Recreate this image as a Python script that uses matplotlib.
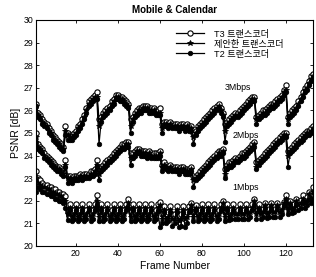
import matplotlib
matplotlib.use("Agg")
import matplotlib.pyplot as plt
import numpy as np

plt.rcParams["font.family"] = ["Liberation Sans", "Noto Sans CJK KR", "DejaVu Sans"]

frames = np.arange(1, 134)

# 3 Mbps
t3_3m = [
    26.3, 25.9, 25.8, 25.6, 25.5, 25.4, 25.2, 25.1, 24.9, 24.8, 24.7, 24.6, 24.5, 24.4, 25.3,
    25.0, 24.9, 24.9, 25.0, 25.1, 25.3, 25.4, 25.6, 25.8, 26.1, 26.4, 26.5, 26.6, 26.7, 26.8,
    25.6, 25.7, 25.9, 26.0, 26.1, 26.2, 26.4, 26.5, 26.7, 26.7, 26.6, 26.6, 26.5, 26.4, 26.3,
    25.6, 25.7, 25.9, 26.0, 26.1, 26.1, 26.2, 26.2, 26.2, 26.1, 26.1, 26.1, 26.0, 26.0, 26.1,
    25.4, 25.5, 25.5, 25.4, 25.5, 25.4, 25.4, 25.4, 25.3, 25.4, 25.4, 25.3, 25.4, 25.3, 25.3,
    25.0, 25.1, 25.3, 25.4, 25.5, 25.6, 25.7, 25.8, 25.9, 26.0, 26.1, 26.2, 26.3, 26.1, 25.9,
    25.4, 25.5, 25.6, 25.7, 25.8, 25.9, 25.9, 26.0, 26.1, 26.2, 26.3, 26.4, 26.5, 26.6, 26.6,
    25.7, 25.8, 25.9, 26.0, 26.0, 26.1, 26.2, 26.3, 26.3, 26.4, 26.5, 26.6, 26.7, 26.9, 27.1,
    25.7, 25.9, 26.0, 26.1, 26.2, 26.4, 26.6, 26.8, 27.0, 27.1, 27.3, 27.5, 27.6,
]
prop_3m = [
    26.2, 25.8, 25.7, 25.5, 25.4, 25.3, 25.1, 25.0, 24.8, 24.7, 24.6, 24.5, 24.4, 24.3, 25.1,
    24.9, 24.8, 24.8, 24.9, 25.0, 25.2, 25.3, 25.5, 25.7, 26.0, 26.3, 26.4, 26.5, 26.6, 26.6,
    25.3, 25.6, 25.8, 25.9, 26.0, 26.1, 26.3, 26.4, 26.6, 26.6, 26.5, 26.5, 26.4, 26.3, 26.2,
    25.3, 25.6, 25.8, 25.9, 26.0, 26.0, 26.1, 26.1, 26.1, 26.0, 26.0, 26.0, 25.9, 25.9, 25.9,
    25.2, 25.4, 25.4, 25.3, 25.4, 25.3, 25.3, 25.3, 25.2, 25.3, 25.3, 25.2, 25.3, 25.2, 25.2,
    24.8, 25.0, 25.2, 25.3, 25.4, 25.5, 25.6, 25.7, 25.8, 25.9, 26.0, 26.1, 26.2, 26.0, 25.8,
    25.1, 25.4, 25.5, 25.6, 25.7, 25.8, 25.8, 25.9, 26.0, 26.1, 26.2, 26.3, 26.4, 26.5, 26.5,
    25.6, 25.7, 25.8, 25.9, 25.9, 26.0, 26.1, 26.2, 26.2, 26.3, 26.4, 26.5, 26.6, 26.8, 26.9,
    25.6, 25.8, 25.9, 26.0, 26.1, 26.3, 26.5, 26.7, 26.9, 27.0, 27.2, 27.4, 27.5,
]
t2_3m = [
    26.2, 25.7, 25.6, 25.4, 25.3, 25.2, 25.0, 24.9, 24.7, 24.6, 24.5, 24.4, 24.3, 24.2, 24.9,
    24.7, 24.7, 24.7, 24.8, 24.9, 25.1, 25.2, 25.4, 25.6, 25.9, 26.2, 26.3, 26.4, 26.5, 26.5,
    24.5, 25.5, 25.7, 25.8, 25.9, 26.0, 26.2, 26.3, 26.5, 26.5, 26.4, 26.4, 26.3, 26.2, 26.1,
    25.0, 25.5, 25.7, 25.8, 25.9, 25.9, 26.0, 26.0, 26.0, 25.9, 25.9, 25.9, 25.8, 25.8, 25.8,
    25.0, 25.3, 25.3, 25.2, 25.3, 25.2, 25.2, 25.2, 25.1, 25.2, 25.2, 25.1, 25.2, 25.1, 25.1,
    24.5, 24.9, 25.1, 25.2, 25.3, 25.4, 25.5, 25.6, 25.7, 25.8, 25.9, 26.0, 26.1, 25.9, 25.7,
    24.6, 25.3, 25.4, 25.5, 25.6, 25.7, 25.7, 25.8, 25.9, 26.0, 26.1, 26.2, 26.3, 26.4, 26.4,
    25.4, 25.6, 25.7, 25.8, 25.8, 25.9, 26.0, 26.1, 26.1, 26.2, 26.3, 26.4, 26.5, 26.7, 26.8,
    25.4, 25.7, 25.8, 25.9, 26.0, 26.2, 26.4, 26.6, 26.8, 26.9, 27.1, 27.3, 27.4,
]

# 2 Mbps
t3_2m = [
    25.0, 24.5, 24.4, 24.3, 24.1, 24.0, 23.9, 23.8, 23.7, 23.6, 23.5, 23.5, 23.4, 23.3, 23.8,
    23.1, 23.1, 23.0, 23.1, 23.1, 23.1, 23.2, 23.1, 23.2, 23.2, 23.2, 23.3, 23.3, 23.4, 23.8,
    23.4, 23.5, 23.6, 23.7, 23.8, 23.9, 24.0, 24.1, 24.2, 24.3, 24.4, 24.5, 24.5, 24.6, 24.6,
    24.1, 24.1, 24.2, 24.3, 24.3, 24.2, 24.2, 24.2, 24.1, 24.2, 24.1, 24.1, 24.1, 24.1, 24.2,
    23.6, 23.7, 23.6, 23.5, 23.6, 23.5, 23.5, 23.5, 23.4, 23.5, 23.5, 23.4, 23.4, 23.4, 23.5,
    23.1, 23.1, 23.2, 23.3, 23.4, 23.5, 23.6, 23.7, 23.8, 23.9, 24.0, 24.1, 24.2, 24.2, 24.3,
    23.4, 23.6, 23.7, 23.7, 23.8, 23.9, 23.9, 24.0, 24.1, 24.1, 24.2, 24.3, 24.4, 24.5, 24.6,
    23.7, 23.8, 23.9, 24.0, 24.1, 24.2, 24.3, 24.4, 24.5, 24.6, 24.7, 24.8, 24.9, 25.0, 25.0,
    24.2, 24.3, 24.4, 24.5, 24.6, 24.7, 24.8, 24.9, 25.0, 25.1, 25.1, 25.2, 25.3,
]
prop_2m = [
    24.8, 24.4, 24.3, 24.2, 24.0, 23.9, 23.8, 23.7, 23.6, 23.5, 23.4, 23.4, 23.3, 23.2, 23.6,
    23.0, 23.0, 22.9, 23.0, 23.0, 23.0, 23.1, 23.0, 23.1, 23.1, 23.1, 23.2, 23.2, 23.3, 23.6,
    23.2, 23.4, 23.5, 23.6, 23.7, 23.8, 23.9, 24.0, 24.1, 24.2, 24.3, 24.4, 24.4, 24.5, 24.5,
    23.9, 24.0, 24.1, 24.2, 24.2, 24.1, 24.1, 24.1, 24.0, 24.1, 24.0, 24.0, 24.0, 24.0, 24.1,
    23.5, 23.6, 23.5, 23.4, 23.5, 23.4, 23.4, 23.4, 23.3, 23.4, 23.4, 23.3, 23.3, 23.3, 23.4,
    22.9, 23.0, 23.1, 23.2, 23.3, 23.4, 23.5, 23.6, 23.7, 23.8, 23.9, 24.0, 24.1, 24.1, 24.2,
    23.2, 23.5, 23.6, 23.6, 23.7, 23.8, 23.8, 23.9, 24.0, 24.0, 24.1, 24.2, 24.3, 24.4, 24.5,
    23.5, 23.7, 23.8, 23.9, 24.0, 24.1, 24.2, 24.3, 24.4, 24.5, 24.6, 24.7, 24.8, 24.9, 24.9,
    24.0, 24.2, 24.3, 24.4, 24.5, 24.6, 24.7, 24.8, 24.9, 25.0, 25.0, 25.1, 25.2,
]
t2_2m = [
    24.6, 24.3, 24.2, 24.1, 23.9, 23.8, 23.7, 23.6, 23.5, 23.4, 23.3, 23.3, 23.2, 23.1, 23.5,
    22.8, 22.9, 22.8, 22.9, 22.9, 22.9, 23.0, 22.9, 23.0, 23.0, 23.0, 23.1, 23.1, 23.2, 23.5,
    22.9, 23.3, 23.4, 23.5, 23.6, 23.7, 23.8, 23.9, 24.0, 24.1, 24.2, 24.3, 24.3, 24.4, 24.4,
    23.6, 23.9, 24.0, 24.1, 24.1, 24.0, 24.0, 24.0, 23.9, 24.0, 23.9, 23.9, 23.9, 23.9, 24.0,
    23.3, 23.5, 23.4, 23.3, 23.4, 23.3, 23.3, 23.3, 23.2, 23.3, 23.3, 23.2, 23.2, 23.2, 23.3,
    22.6, 22.9, 23.0, 23.1, 23.2, 23.3, 23.4, 23.5, 23.6, 23.7, 23.8, 23.9, 24.0, 24.0, 24.1,
    23.0, 23.4, 23.5, 23.5, 23.6, 23.7, 23.7, 23.8, 23.9, 23.9, 24.0, 24.1, 24.2, 24.3, 24.4,
    23.4, 23.6, 23.7, 23.8, 23.9, 24.0, 24.1, 24.2, 24.3, 24.4, 24.5, 24.6, 24.7, 24.8, 24.8,
    23.5, 24.1, 24.2, 24.3, 24.4, 24.5, 24.6, 24.7, 24.8, 24.9, 24.9, 25.0, 25.1,
]

# 1 Mbps
t3_1m = [
    23.3, 23.0, 22.9, 22.8, 22.7, 22.7, 22.6, 22.6, 22.5, 22.5, 22.4, 22.4, 22.3, 22.3, 22.2,
    21.5, 21.85, 21.5, 21.6, 21.85, 21.5, 21.6, 21.85, 21.5, 21.6, 21.85, 21.5, 21.6, 21.85, 22.25,
    21.5, 21.85, 21.5, 21.6, 21.85, 21.5, 21.6, 21.85, 21.5, 21.6, 21.85, 21.5, 21.6, 21.85, 22.1,
    21.5, 21.85, 21.5, 21.6, 21.85, 21.5, 21.6, 21.85, 21.5, 21.6, 21.85, 21.5, 21.6, 21.85, 21.95,
    21.4, 21.75, 21.4, 21.5, 21.75, 21.4, 21.4, 21.75, 21.35, 21.4, 21.75, 21.4, 21.5, 21.75, 21.9,
    21.5, 21.8, 21.5, 21.6, 21.85, 21.5, 21.6, 21.85, 21.5, 21.6, 21.85, 21.5, 21.6, 21.85, 22.0,
    21.5, 21.85, 21.5, 21.6, 21.85, 21.5, 21.6, 21.85, 21.55, 21.6, 21.85, 21.55, 21.65, 21.85, 22.1,
    21.55, 21.85, 21.55, 21.65, 21.9, 21.55, 21.65, 21.9, 21.6, 21.65, 21.9, 21.65, 21.75, 21.95, 22.25,
    21.75, 22.0, 21.75, 21.85, 22.1, 21.95, 22.05, 22.25, 22.05, 22.15, 22.4, 22.3, 22.6,
]
prop_1m = [
    23.0, 22.8, 22.7, 22.6, 22.6, 22.5, 22.5, 22.4, 22.4, 22.3, 22.3, 22.2, 22.2, 22.1, 22.0,
    21.4, 21.7, 21.3, 21.4, 21.7, 21.3, 21.4, 21.7, 21.3, 21.4, 21.7, 21.3, 21.4, 21.7, 22.0,
    21.3, 21.7, 21.3, 21.4, 21.7, 21.3, 21.4, 21.7, 21.3, 21.4, 21.7, 21.3, 21.4, 21.7, 21.9,
    21.3, 21.7, 21.3, 21.4, 21.7, 21.3, 21.4, 21.7, 21.3, 21.4, 21.7, 21.3, 21.4, 21.7, 21.8,
    21.2, 21.6, 21.2, 21.3, 21.6, 21.2, 21.2, 21.6, 21.1, 21.2, 21.6, 21.2, 21.3, 21.6, 21.8,
    21.3, 21.7, 21.3, 21.4, 21.7, 21.3, 21.4, 21.7, 21.3, 21.4, 21.7, 21.3, 21.4, 21.7, 21.9,
    21.3, 21.7, 21.3, 21.4, 21.7, 21.4, 21.4, 21.7, 21.4, 21.4, 21.7, 21.4, 21.5, 21.7, 22.0,
    21.4, 21.7, 21.4, 21.5, 21.8, 21.4, 21.5, 21.8, 21.5, 21.5, 21.8, 21.5, 21.6, 21.9, 22.1,
    21.6, 21.9, 21.6, 21.7, 22.0, 21.8, 21.9, 22.1, 21.9, 22.0, 22.3, 22.1, 22.4,
]
t2_1m = [
    22.4, 22.6, 22.5, 22.4, 22.4, 22.3, 22.3, 22.2, 22.2, 22.1, 22.1, 22.0, 22.0, 21.9, 21.7,
    21.15, 21.6, 21.1, 21.2, 21.6, 21.1, 21.2, 21.6, 21.1, 21.2, 21.6, 21.1, 21.2, 21.6, 21.8,
    21.1, 21.6, 21.1, 21.2, 21.6, 21.1, 21.2, 21.6, 21.1, 21.2, 21.6, 21.1, 21.2, 21.6, 21.7,
    21.1, 21.6, 21.1, 21.2, 21.6, 21.1, 21.2, 21.6, 21.1, 21.2, 21.6, 21.1, 21.2, 21.55, 20.85,
    21.0, 21.5, 21.0, 21.1, 21.5, 20.9, 21.0, 21.5, 20.85, 20.9, 21.45, 20.85, 21.0, 21.5, 21.6,
    21.1, 21.6, 21.1, 21.2, 21.6, 21.1, 21.2, 21.6, 21.1, 21.2, 21.6, 21.1, 21.2, 21.6, 21.7,
    21.1, 21.6, 21.15, 21.2, 21.6, 21.2, 21.2, 21.6, 21.2, 21.2, 21.6, 21.2, 21.3, 21.6, 21.8,
    21.2, 21.6, 21.2, 21.3, 21.7, 21.25, 21.3, 21.7, 21.3, 21.3, 21.7, 21.3, 21.4, 21.75, 21.9,
    21.4, 21.8, 21.45, 21.5, 21.85, 21.6, 21.7, 21.9, 21.7, 21.8, 22.1, 21.9, 22.1,
]

labels = ["T3 트랜스코더", "제안한 트랜스코더", "T2 트랜스코더"]
rate_labels = ["3Mbps", "2Mbps", "1Mbps"]
rate_pos = [(97, 27.0), (101, 24.87), (101, 22.57)]

fig = plt.figure(figsize=(3.16, 2.77), dpi=100)
ax = fig.add_axes([0.114, 0.112, 0.877, 0.816])

styles = [
    dict(marker="o", ms=3.8, mfc="white", mec="black", mew=0.8),
    dict(marker="*", ms=4.2, mfc="black", mec="black", mew=0.6),
    dict(marker="o", ms=3.3, mfc="black", mec="black", mew=0.5),
]
groups = [
    (t3_3m, prop_3m, t2_3m),
    (t3_2m, prop_2m, t2_2m),
    (t3_1m, prop_1m, t2_1m),
]
for gi, grp in enumerate(groups):
    for si, ys in enumerate(grp):
        ax.plot(frames, ys, color="black", lw=0.9, **styles[si],
                label=labels[si] if gi == 0 else None)

for txt, (fx, fy) in zip(rate_labels, rate_pos):
    ax.text(fx, fy, txt, fontsize=6.3, ha="center", va="center")

ax.set_xlim(1, 133)
ax.set_ylim(20, 30)
ax.set_xticks([20, 40, 60, 80, 100, 120])
ax.set_yticks(range(20, 31))
ax.tick_params(direction="in", top=True, right=True, labelsize=6.3, length=2.5, width=0.6, pad=2)
for s in ax.spines.values():
    s.set_linewidth(0.8)

ax.set_xlabel("Frame Number", fontsize=7.5, labelpad=2)
ax.set_ylabel("PSNR [dB]", fontsize=7.5, labelpad=2)
ax.set_title("Mobile & Calendar", fontsize=7, fontweight="bold", pad=5)

ax.legend(loc="upper left", bbox_to_anchor=(0.5, 0.965), frameon=False,
          fontsize=6.6, handlelength=3.0, handletextpad=1.1, labelspacing=0.1,
          borderaxespad=0, borderpad=0.2)

fig.savefig("out.png", dpi=100)
